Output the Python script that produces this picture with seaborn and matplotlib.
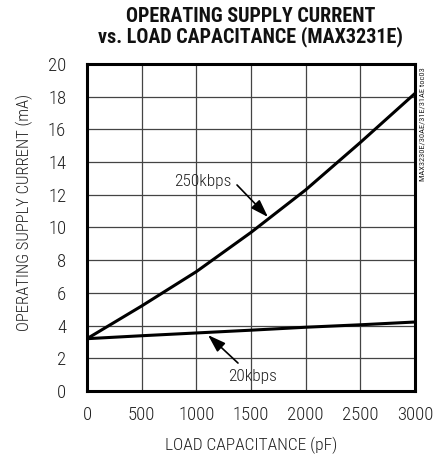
import pandas as pd
import matplotlib.pyplot as plt
import seaborn as sns

sns.set_theme(style="white")
plt.rcParams['font.family'] = ['Roboto Condensed', 'DejaVu Sans']

# values
capacitance = [0, 500, 1000, 1500, 2000, 2500, 3000]
current_250k = [3.2, 5.2, 7.3, 9.7, 12.3, 15.2, 18.2]
current_20k = [3.2, 3.38, 3.55, 3.72, 3.9, 4.05, 4.22]
x_ticks = [0, 500, 1000, 1500, 2000, 2500, 3000]
y_ticks = [0, 2, 4, 6, 8, 10, 12, 14, 16, 18, 20]

df = pd.concat([
    pd.DataFrame({"cap": capacitance, "current": current_250k, "rate": "250kbps"}),
    pd.DataFrame({"cap": capacitance, "current": current_20k, "rate": "20kbps"}),
])

fig = plt.figure(figsize=(4.43, 4.57), dpi=100)
ax = fig.add_axes([0.1964, 0.1444, 0.7404, 0.7156])

sns.lineplot(data=df, x="cap", y="current", units="rate", estimator=None,
             color="black", linewidth=2.2, ax=ax, legend=False)

ax.set_xlim(0, 3000)
ax.set_ylim(0, 20)
ax.set_xticks(x_ticks)
ax.set_yticks(y_ticks)
ax.grid(True, color="#444444", linewidth=0.9)
for s in ax.spines.values():
    s.set_color("black")
    s.set_linewidth(2.2)
ax.tick_params(axis="both", length=0, labelsize=13.5, colors="#222222")
ax.tick_params(axis="x", pad=11)
ax.tick_params(axis="y", pad=15)
for lab in ax.get_xticklabels() + ax.get_yticklabels():
    lab.set_fontweight("light")

ax.set_xlabel("LOAD CAPACITANCE (pF)", fontsize=12.5, color="#222222",
              labelpad=9, fontweight="light")
ax.set_ylabel("OPERATING SUPPLY CURRENT (mA)", fontsize=12, color="#222222",
              fontweight="light")
ax.yaxis.set_label_coords(-0.165, 0.545)

fig.text(0.565, 0.985, "OPERATING SUPPLY CURRENT\nvs. LOAD CAPACITANCE (MAX3231E)",
         ha="center", va="top", fontsize=14.5, fontweight="bold", linespacing=1.05,
         color="#111111")

arrow = dict(arrowstyle="-|>,head_length=0.9,head_width=0.3", color="black",
             lw=1.2, shrinkA=0, shrinkB=0, mutation_scale=12)
ax.text(1061, 12.8, "250kbps", fontsize=12.5, color="#222222",
        ha="center", va="center", fontweight="light")
ax.annotate("", xy=(1655, 10.64), xytext=(1372, 12.6), arrowprops=arrow)
ax.text(1518, 0.86, "20kbps", fontsize=12.5, color="#222222",
        ha="center", va="center", fontweight="light")
ax.annotate("", xy=(1107, 3.42), xytext=(1381, 1.71), arrowprops=arrow)

fig.text(0.953, 0.853, "MAX3230E/30AE/31E/31AE toc03", rotation=90,
         ha="center", va="top", fontsize=6, color="#222222")

fig.savefig("out.png", dpi=100)
